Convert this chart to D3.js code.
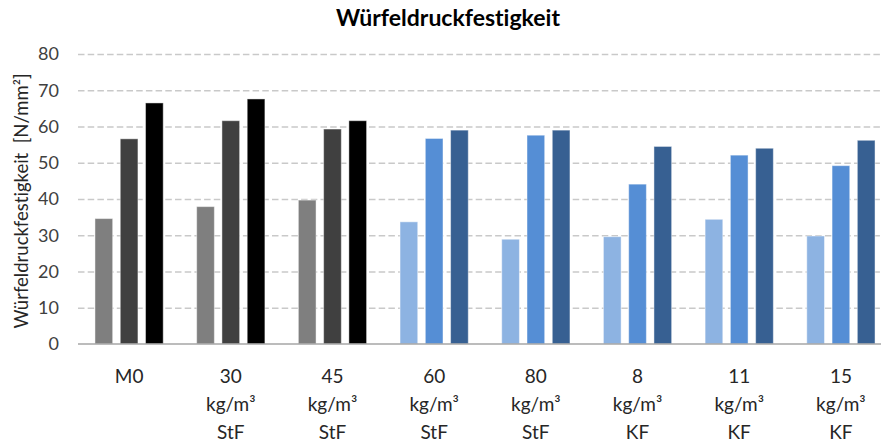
<!DOCTYPE html>
<html>
<head>
<meta charset="utf-8">
<script src="https://cdn.jsdelivr.net/npm/d3@7/dist/d3.min.js"></script>
<style>
  html, body { margin: 0; padding: 0; background: #fff; }
  svg { display: block; font-family: Lato, "Open Sans", sans-serif; font-variant-ligatures: none; }
</style>
</head>
<body>
<svg id="chart" width="881" height="443"></svg>
<script>
// Mix designs (multi-line category labels)
const categories = [
  ["M0"],
  ["30", "kg/m³", "StF"],
  ["45", "kg/m³", "StF"],
  ["60", "kg/m³", "StF"],
  ["80", "kg/m³", "StF"],
  ["8", "kg/m³", "KF"],
  ["11", "kg/m³", "KF"],
  ["15", "kg/m³", "KF"]
];
// Three test results per mix, in N/mm²
const series1 = [34.6, 37.9, 39.7, 33.7, 28.9, 29.6, 34.4, 29.8];
const series2 = [56.6, 61.6, 59.3, 56.7, 57.6, 44.1, 52.1, 49.2];
const series3 = [66.5, 67.6, 61.6, 59.0, 59.0, 54.5, 54.0, 56.2];
const yTicks = [0, 10, 20, 30, 40, 50, 60, 70, 80];

// Colour families: reference mixes in greys, fibre mixes in blues
const greyShades = ["#7f7f7f", "#404040", "#000000"];
const blueShades = ["#8db3e2", "#558ed5", "#376092"];
const isGrey = [true, true, true, false, false, false, false, false];

const title = "Würfeldruckfestigkeit";
const yTitle = "Würfeldruckfestigkeit  [N/mm²]";

const svg = d3.select("#chart");
const W = 881, H = 443;
const margin = { left: 78, right: -11, top: 54, bottom: 99 };
const plotRight = W - margin.right;
const plotBottom = H - margin.bottom;

const x = d3.scaleBand()
  .domain(d3.range(categories.length))
  .range([margin.left, plotRight])
  .paddingInner(0.329)
  .paddingOuter(0.167);

const inner = d3.scaleBand()
  .domain([0, 1, 2])
  .range([0, x.bandwidth()])
  .paddingInner(0.30);

const y = d3.scaleLinear().domain([0, 80]).range([plotBottom, margin.top]);

// Dashed gridlines
const grid = d3.axisLeft(y).tickValues(yTicks.filter(d => d > 0))
  .tickSize(-(plotRight - margin.left)).tickFormat("");
svg.append("g")
  .attr("transform", `translate(${margin.left},0)`)
  .call(grid)
  .call(g => g.select(".domain").remove())
  .call(g => g.selectAll("line")
    .attr("stroke", "#c9c9c9")
    .attr("stroke-width", 1.3)
    .attr("stroke-dasharray", "6.5,3.2"));

// Y tick labels
const yAxis = d3.axisLeft(y).tickValues(yTicks).tickSize(0).tickPadding(19);
svg.append("g")
  .attr("transform", `translate(${margin.left},0)`)
  .call(yAxis)
  .call(g => g.select(".domain").remove())
  .call(g => g.selectAll("text")
    .attr("fill", "#404040")
    .attr("font-size", 18)
    .attr("font-family", "Lato, 'Open Sans', sans-serif"));

// Bars
const rows = categories.map((c, i) => [series1[i], series2[i], series3[i]]
  .map((v, k) => ({ i, k, v })));
const groups = svg.append("g").selectAll("g")
  .data(rows).join("g")
  .attr("transform", (d, i) => `translate(${x(i)},0)`);
groups.selectAll("rect")
  .data(d => d).join("rect")
  .attr("x", d => inner(d.k))
  .attr("width", inner.bandwidth())
  .attr("y", d => y(d.v))
  .attr("height", d => y(0) - y(d.v))
  .attr("fill", d => (isGrey[d.i] ? greyShades : blueShades)[d.k])
  .attr("stroke", "#ffffff")
  .attr("stroke-opacity", 0.45)
  .attr("stroke-width", 1);

// Baseline
svg.append("line")
  .attr("x1", margin.left).attr("x2", W)
  .attr("y1", y(0)).attr("y2", y(0))
  .attr("stroke", "#a6a6a6").attr("stroke-width", 1.5);

// Category labels
const labels = svg.append("g").selectAll("text")
  .data(categories).join("text")
  .attr("text-anchor", "middle")
  .attr("fill", "#262626")
  .attr("font-size", 19);
labels.selectAll("tspan")
  .data((d, i) => d.map(t => ({ t, i })))
  .join("tspan")
  .attr("x", d => x(d.i) + x.bandwidth() / 2)
  .attr("y", (d, j) => 383 + j * 28)
  .text(d => d.t);

// Chart title
svg.append("text")
  .attr("x", 448).attr("y", 26)
  .attr("text-anchor", "middle")
  .attr("font-size", 23)
  .attr("font-weight", "bold")
  .attr("fill", "#000")
  .text(title);

// Y axis title
svg.append("text")
  .attr("transform", `translate(28,${(margin.top + plotBottom) / 2 + 2}) rotate(-90)`)
  .attr("text-anchor", "middle")
  .attr("font-size", 18.5)
  .attr("fill", "#262626")
  .attr("xml:space", "preserve")
  .style("white-space", "pre")
  .text(yTitle);
</script>
</body>
</html>
